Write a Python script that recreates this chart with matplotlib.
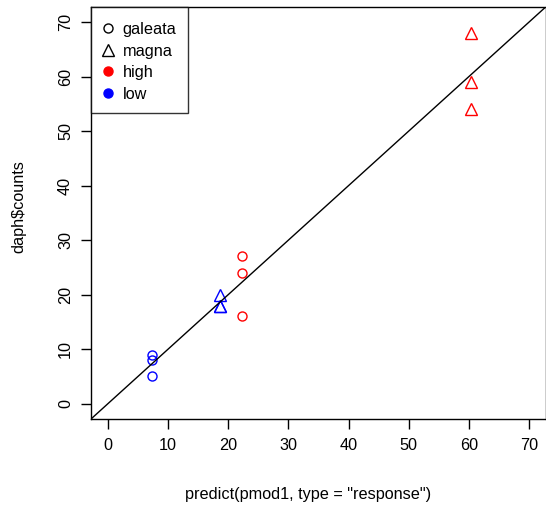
import matplotlib
matplotlib.use("Agg")
import matplotlib.pyplot as plt
from matplotlib.lines import Line2D

plt.rcParams['font.family'] = ['Liberation Sans', 'DejaVu Sans']

# data: predicted (x) vs observed counts (y)
gal_low_x = [7.33, 7.33, 7.33]
gal_low_y = [9, 8, 5]
mag_low_x = [18.67, 18.67, 18.67]
mag_low_y = [20, 18, 18]
gal_high_x = [22.33, 22.33, 22.33]
gal_high_y = [27, 24, 16]
mag_high_x = [60.33, 60.33, 60.33]
mag_high_y = [68, 59, 54]
ticks = [0, 10, 20, 30, 40, 50, 60, 70]
legend_labels = ["galeata", "magna", "high", "low"]

fig = plt.figure(figsize=(5.46, 5.08), dpi=100)
ax = fig.add_axes([91/546, 1-419/508, (546-91)/546, (419-6.7)/508])
ax.set_xlim(-2.8, 72.8)
ax.set_ylim(-2.8, 72.8)

ms_c = 6.5
ms_t = 8
ax.plot(gal_low_x, gal_low_y, 'o', ms=ms_c, mfc='none', mec='blue', mew=1)
ax.plot(mag_low_x, mag_low_y, '^', ms=ms_t, mfc='none', mec='blue', mew=1)
ax.plot(gal_high_x, gal_high_y, 'o', ms=ms_c, mfc='none', mec='red', mew=1)
ax.plot(mag_high_x, mag_high_y, '^', ms=ms_t, mfc='none', mec='red', mew=1)
ax.axline((0, 0), slope=1, color='black', lw=1)

fs = 11.7
ax.set_xticks(ticks)
ax.set_yticks(ticks)
ax.set_xticklabels([str(t) for t in ticks], fontsize=fs)
ax.set_yticklabels([str(t) for t in ticks], fontsize=fs, rotation=90, va='center')
ax.tick_params(direction='out', length=7, width=1, pad=7)
ax.tick_params(axis='y', pad=6)
for s in ax.spines.values():
    s.set_linewidth(1)
ax.set_xlabel('predict(pmod1, type = "response")', fontsize=fs)
ax.set_ylabel('daph$counts', fontsize=fs)
ax.xaxis.set_label_coords((308.5 - 91) / 455, 1 - (494 - 6.7) / 412.3)
ax.yaxis.set_label_coords((19 - 91) / 455, (419 - 206.5) / 412.3)
ax.xaxis.label.set_va('center')
ax.yaxis.label.set_va('center')

handles = [
    Line2D([], [], ls='none', marker='o', ms=ms_c, mfc='none', mec='black'),
    Line2D([], [], ls='none', marker='^', ms=ms_t, mfc='none', mec='black'),
    Line2D([], [], ls='none', marker='o', ms=ms_c, mfc='red', mec='red'),
    Line2D([], [], ls='none', marker='o', ms=ms_c, mfc='blue', mec='blue'),
]
leg = ax.legend(handles, legend_labels, loc='upper left', fontsize=fs,
                frameon=True, fancybox=False, borderaxespad=0, handlelength=0.66,
                handletextpad=0.6, labelspacing=0.4, borderpad=0.7,
                title=' ', title_fontsize=0.5)
leg.get_frame().set_edgecolor('black')
leg.get_frame().set_linewidth(1)
try:
    leg._legend_box.sep = 2.2
except Exception:
    pass

fig.savefig('out.png', dpi=100)
